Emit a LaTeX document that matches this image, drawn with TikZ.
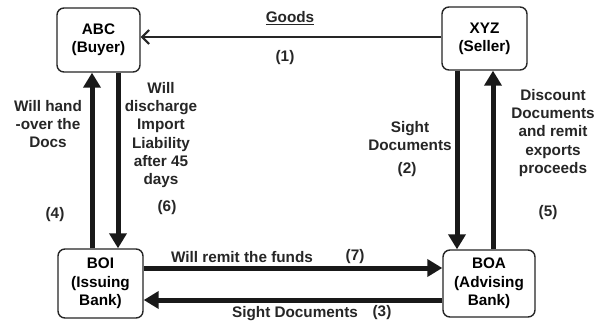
\documentclass[tikz,border=0pt]{standalone}
\usepackage{fontspec}
\setmainfont{Liberation Sans}
\usetikzlibrary{arrows.meta}
\begin{document}
\begin{tikzpicture}[x=1pt,y=-1pt,
  party/.style={draw=black!85,line width=1.4pt,rounded corners=7pt,align=center,inner sep=0pt},
  lbl/.style={align=center,inner sep=0pt,text=black!85},
  bigarrow/.style={draw=black!90,line width=5pt,-{Triangle[width=17pt,length=15pt]}},
  thinarrow/.style={draw=black!85,line width=2pt,-{Straight Barb[width=14pt,length=7pt,line width=2pt]}},
  every node/.style={font=\bfseries\fontsize{15.3}{18.3}\selectfont}]
\useasboundingbox (0,0) rectangle (605,322);
\fill[white] (0,0) rectangle (605,322);
% parties
\node[party,minimum width=83pt,minimum height=64pt] (abc) at (98.5,40) {ABC\\(Buyer)};
\node[party,minimum width=85pt,minimum height=63pt] (xyz) at (484.5,38.5) {XYZ\\(Seller)};
\node[party,minimum width=85pt,minimum height=69pt] (boi) at (100.5,283.5) {BOI\\(Issuing\\Bank)};
\node[party,minimum width=92pt,minimum height=67pt] (boa) at (489,283.5) {BOA\\(Advising\\Bank)};
% connectors
\draw[thinarrow] ([yshift=1.5pt]xyz.west) -- ([yshift=1.5pt]xyz.west -| abc.east);
\draw[bigarrow] ([xshift=-8.5pt]boi.north) -- ([xshift=-8.5pt]boi.north |- abc.south);
\draw[bigarrow] ([xshift=19.5pt]abc.south) -- ([xshift=19.5pt]abc.south |- boi.north);
\draw[bigarrow] ([xshift=-27.5pt]xyz.south) -- ([xshift=-27.5pt]xyz.south |- boa.north);
\draw[bigarrow] ([xshift=4pt]boa.north) -- ([xshift=4pt]boa.north |- xyz.south);
\draw[bigarrow] ([yshift=15.5pt]boi.east) -- ([yshift=15.5pt]boi.east -| boa.west);
\draw[bigarrow] ([yshift=-16.5pt]boa.west) -- ([yshift=-16.5pt]boa.west -| boi.east);
% labels
\node[lbl] (goods) at (290,18) {\underline{Goods}};
\node[lbl] (n1) at (285,58) {(1)};
\node[lbl] (hand) at (48,124) {Will hand\\-over the\\Docs};
\node[lbl] (n4) at (55,215) {(4)};
\node[lbl] (disch) at (161,135) {Will\\discharge\\Import\\Liability\\after 45\\days};
\node[lbl] (n6) at (167,208) {(6)};
\node[lbl] (sight1) at (410,136) {Sight\\Documents};
\node[lbl] (n2) at (407,170) {(2)};
\node[lbl] (disc) at (553,133) {Discount\\Documents\\and remit\\exports\\proceeds};
\node[lbl] (n5) at (548,213) {(5)};
\node[lbl] (remit) at (242,257) {Will remit the funds};
\node[lbl] (n7) at (355,257) {(7)};
\node[lbl] (sight2) at (295,314) {Sight Documents};
\node[lbl] (n3) at (382,313) {(3)};
\end{tikzpicture}
\end{document}
